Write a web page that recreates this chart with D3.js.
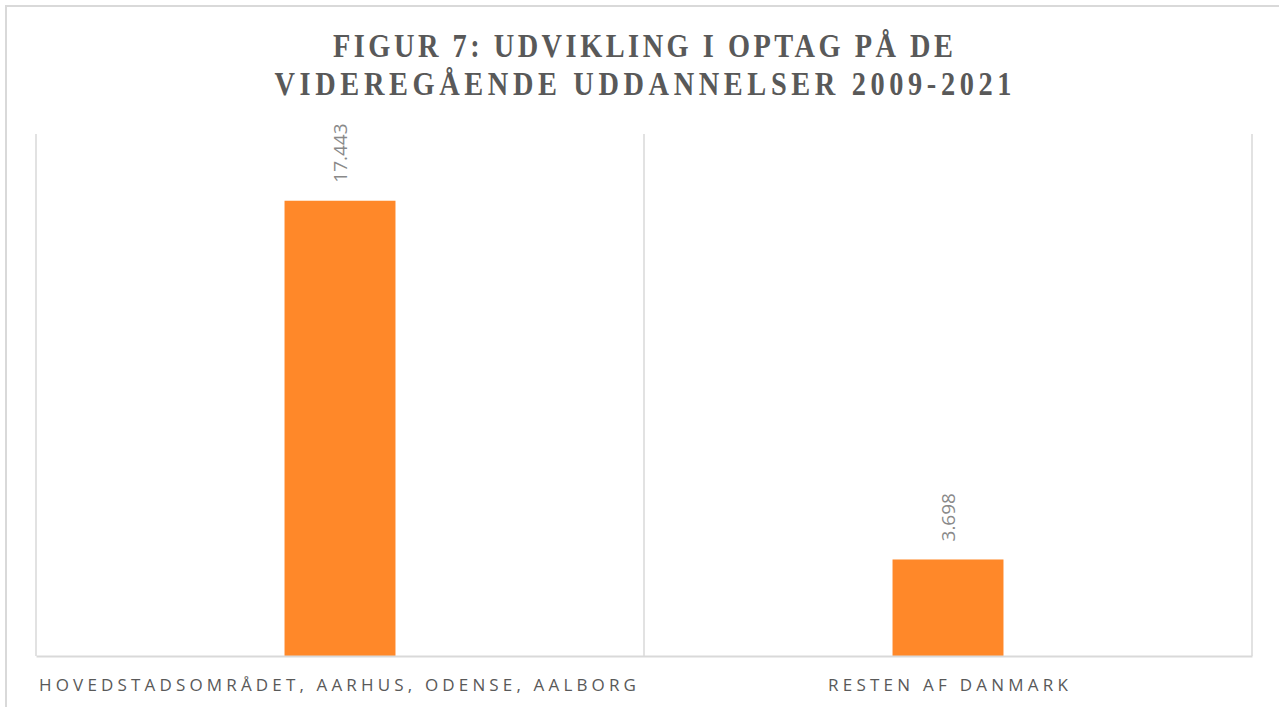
<!DOCTYPE html>
<html><head><meta charset="utf-8">
<script src="https://cdn.jsdelivr.net/npm/d3@7"></script>
<style>body{margin:0;background:#fff}svg{display:block}</style>
</head><body><svg id="c" width="1279" height="707"></svg>
<script>
const categories = ["HOVEDSTADSOMRÅDET, AARHUS, ODENSE, AALBORG", "RESTEN AF DANMARK"];
const values = [17443, 3698];
const valueLabels = ["17.443", "3.698"];
const titleLines = ["FIGUR 7: UDVIKLING I OPTAG PÅ DE", "VIDEREGÅENDE UDDANNELSER 2009-2021"];

const svg = d3.select("#c");
const m = {left: 36, right: 1252, top: 134, bottom: 656};

svg.append("rect").attr("x", 6).attr("y", 6).attr("width", 1290).attr("height", 720)
  .attr("fill", "#fff").attr("stroke", "#d9d9d9").attr("stroke-width", 2);

const x = d3.scaleBand().domain(categories).range([m.left, m.right]).paddingInner(0).paddingOuter(0);
const y = d3.scaleLinear().domain([0, 20000]).range([m.bottom, m.top]);

const seps = [m.left, m.left + x.bandwidth(), m.right];
svg.selectAll("line.sep").data(seps).join("line")
  .attr("x1", d => d).attr("x2", d => d).attr("y1", m.top).attr("y2", m.bottom)
  .attr("stroke", "#d9d9d9").attr("stroke-width", 1.5);

const barW = x.bandwidth() / 5.48;
svg.selectAll("rect.bar").data(values).join("rect")
  .attr("x", (d, i) => x(categories[i]) + x.bandwidth() / 2 - barW / 2)
  .attr("width", barW)
  .attr("y", d => y(d)).attr("height", d => y(0) - y(d))
  .attr("fill", "#ff8829");

const ax = svg.append("g").attr("transform", `translate(0,${m.bottom})`)
  .call(d3.axisBottom(x).tickSize(0).tickPadding(0));
ax.select(".domain").attr("stroke", "#d9d9d9").attr("stroke-width", 2);
ax.selectAll("text").remove();
const catW = [597, 240];
const catOff = [-2.5, 0];
categories.forEach((c, i) => {
  svg.append("text").attr("x", x(c) + x.bandwidth() / 2 + catOff[i]).attr("y", 691)
    .attr("text-anchor", "middle").attr("font-family", "'Open Sans', sans-serif")
    .attr("font-size", 17).attr("fill", "#595959")
    .attr("textLength", catW[i]).attr("lengthAdjust", "spacing")
    .text(c);
});

values.forEach((v, i) => {
  const cx = x(categories[i]) + x.bandwidth() / 2;
  const yy = y(v) - 18;
  svg.append("text").attr("transform", `translate(${cx + 7},${yy}) rotate(-90)`)
    .attr("font-family", "'Open Sans', sans-serif").attr("font-size", 19)
    .attr("fill", "#898989").text(valueLabels[i]);
});

const tW = [620, 737];
const tY = [57, 95];
const sx = 0.86;
titleLines.forEach((t, i) => {
  svg.append("text").attr("transform", `translate(643,${tY[i]}) scale(${sx},1)`)
    .attr("text-anchor", "middle")
    .attr("font-family", "'Liberation Serif', serif").attr("font-weight", "bold")
    .attr("font-size", 33).attr("fill", "#595959")
    .attr("textLength", tW[i] / sx).attr("lengthAdjust", "spacing")
    .text(t);
});
</script></body></html>
